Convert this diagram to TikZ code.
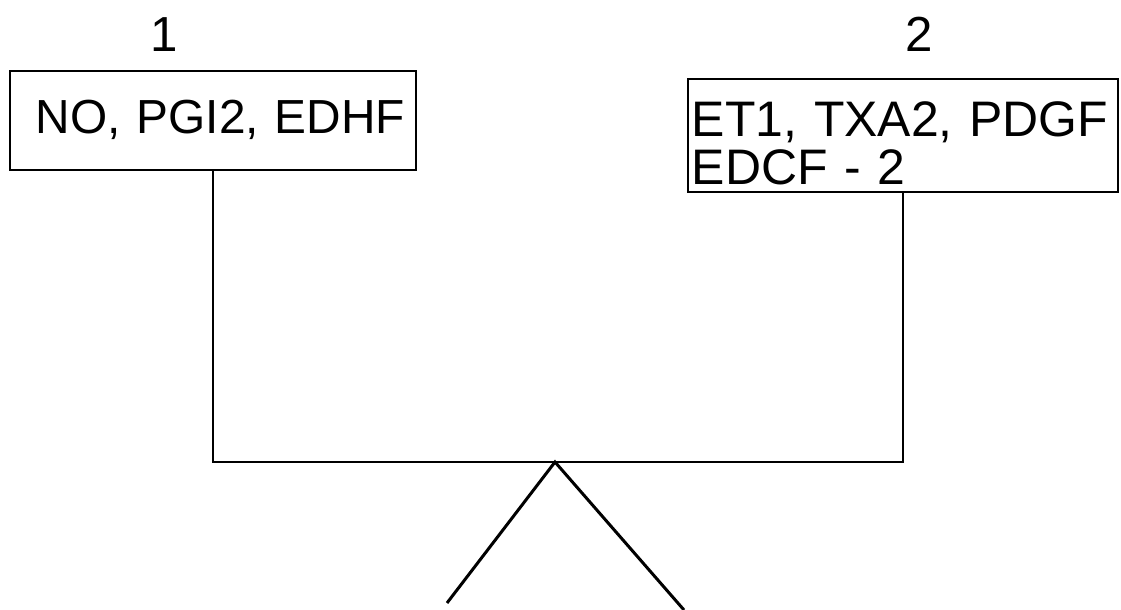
\documentclass[tikz,border=0pt]{standalone}
\usepackage{fontspec}
\setmainfont{Liberation Sans}
\usetikzlibrary{calc,positioning}
\newcommand\panelfont{\fontsize{34}{31}\selectfont\lineskiplimit=-20pt\relax}
\newcommand\widefont{\fontsize{35.5}{33.5}\selectfont\lineskiplimit=-20pt\relax}
\tikzset{
	panel/.style={draw, line width=0.45mm, inner ysep=0pt, font=\panelfont},
	num/.style={inner sep=0pt, font=\fontsize{35}{40}\selectfont},
}

\begin{document}
\begin{tikzpicture}[x=0.025cm, y=-0.025cm]
			%%%%% START %%%%%
			\useasboundingbox (0, 0) rectangle (1121, 610);
			
			\node[panel, minimum width=10.15cm, minimum height=2.475cm, inner xsep=0.275cm, text width=9.6cm, align=right, text height=0.9cm, text depth=0.275cm] (box1) at (213, 120.5) {NO, PGI2, EDHF};
			\node[panel, font=\widefont, minimum width=10.75cm, minimum height=2.825cm, inner xsep=0.1cm, text width=10.55cm, align=left, text height=1.2cm, text depth=1.125cm] (box2) at (903, 135.5) {ET1, TXA2, PDGF\\EDCF - 2};
			
			\node[num, anchor=base] (lab1) at (164, 52) {1};
			\node[num, anchor=base] (lab2) at (919, 52) {2};
			
			\coordinate (hub) at (555, 462);
			\coordinate (footL) at (447, 603);
			\coordinate (footR) at (684, 610);
			
			\draw[line width=0.45mm] (box1.south) |- (hub) -| (box2.south);
			\draw[line width=0.75mm] (footL) -- (hub) -- (footR);
			
			%%%%% END %%%%%
\end{tikzpicture}
\end{document}
